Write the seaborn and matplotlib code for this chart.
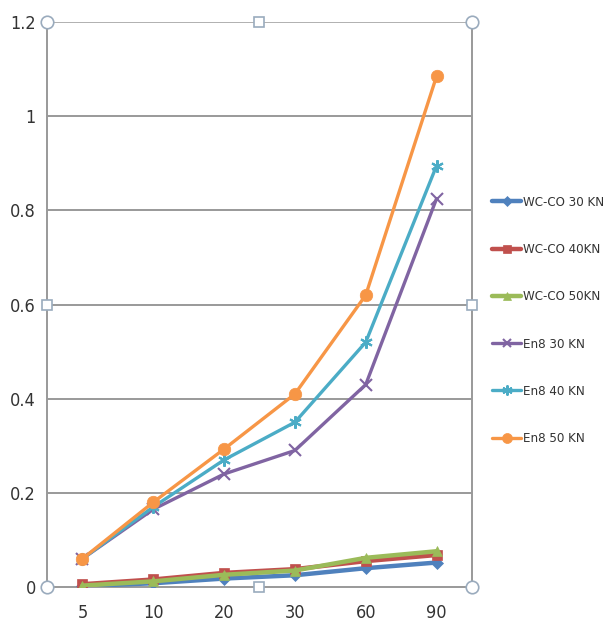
import matplotlib
matplotlib.use("Agg")
import matplotlib.pyplot as plt
import seaborn as sns
import pandas as pd

# Time categories (minutes) shown on the x axis
time_labels = ["5", "10", "20", "30", "60", "90"]

# Wear values per series
wcco_30kn = [0.002, 0.008, 0.018, 0.025, 0.040, 0.052]
wcco_40kn = [0.006, 0.016, 0.030, 0.038, 0.055, 0.068]
wcco_50kn = [0.003, 0.012, 0.026, 0.035, 0.062, 0.076]
en8_30kn = [0.060, 0.165, 0.240, 0.290, 0.430, 0.825]
en8_40kn = [0.060, 0.170, 0.270, 0.350, 0.520, 0.895]
en8_50kn = [0.060, 0.180, 0.293, 0.410, 0.620, 1.085]

series_names = ["WC-CO 30 KN", "WC-CO 40KN", "WC-CO 50KN",
                "En8 30 KN", "En8 40 KN", "En8 50 KN"]
series_values = [wcco_30kn, wcco_40kn, wcco_50kn, en8_30kn, en8_40kn, en8_50kn]
colors = ["#4F81BD", "#C0504D", "#9BBB59", "#8064A2", "#4BACC6", "#F79646"]
markers = ["D", "s", "^", "x", (6, 2, 0), "o"]
msizes = [6, 7, 7, 8, 9, 9]
widths = [3.2, 3.2, 3.2, 2.4, 2.4, 2.4]

rows = []
for name, vals in zip(series_names, series_values):
    for i, v in enumerate(vals):
        rows.append({"pos": i, "value": v, "series": name})
df = pd.DataFrame(rows)

sns.set_theme(style="white")
plt.rcParams["font.family"] = ["DejaVu Sans"]
plt.rcParams["font.stretch"] = "condensed"

fig = plt.figure(figsize=(6.11, 6.31), dpi=100)
ax = fig.add_axes([0.0769, 0.0697, 0.6956, 0.8954])

grid_color = "#999999"
for yv in [0.2, 0.4, 0.6, 0.8, 1.0]:
    ax.axhline(yv, color=grid_color, lw=1.4, zorder=0)
ax.axhline(1.2, color="#b0b0b0", lw=1.4, zorder=0)

for name, col, mk, ms, lw in zip(series_names, colors, markers, msizes, widths):
    sub = df[df["series"] == name]
    sns.lineplot(data=sub, x="pos", y="value", ax=ax, color=col, lw=lw,
                 marker=mk, markersize=ms, markeredgecolor=col,
                 markeredgewidth=1.5 if mk in ("x", (6, 2, 0)) else 0.5,
                 label=name, zorder=3)

ax.set_xlim(-0.5, 5.5)
ax.set_ylim(0, 1.2)
ax.set_xticks(range(len(time_labels)))
ax.set_xticklabels(time_labels)
ax.set_yticks([0, 0.2, 0.4, 0.6, 0.8, 1.0, 1.2])
ax.set_yticklabels(["0", "0.2", "0.4", "0.6", "0.8", "1", "1.2"])
ax.tick_params(axis="both", length=0, labelsize=13, colors="#333333")
ax.tick_params(axis="y", pad=8)
ax.tick_params(axis="x", pad=12)
ax.set_xlabel("")
ax.set_ylabel("")

ax.spines["top"].set_visible(False)
for side in ["left", "right", "bottom"]:
    ax.spines[side].set_color(grid_color)
    ax.spines[side].set_linewidth(1.4)

# Selection handles around the plot area frame
tr = ax.transAxes
for (hx, hy) in [(0, 0), (1, 0), (0, 1), (1, 1)]:
    ax.plot(hx, hy, marker="o", markersize=9, mfc="white", mec="#9aabbd",
            mew=1.2, transform=tr, clip_on=False, zorder=6)
for (hx, hy) in [(0.5, 0), (0.5, 1), (0, 0.5), (1, 0.5)]:
    ax.plot(hx, hy, marker="s", markersize=7, mfc="white", mec="#9aabbd",
            mew=1.2, transform=tr, clip_on=False, zorder=6)

handles, labels = ax.get_legend_handles_labels()
if ax.get_legend():
    ax.get_legend().remove()
leg = fig.legend(handles[:6], labels[:6], loc="upper left",
                 bbox_to_anchor=(0.797, 0.698), frameon=False,
                 fontsize=9.5, labelspacing=2.6, handlelength=2.2,
                 handletextpad=0.1, borderaxespad=0, markerscale=0.8)
for t in leg.get_texts():
    t.set_color("#333333")

fig.savefig("out.png", dpi=100, facecolor="white")
